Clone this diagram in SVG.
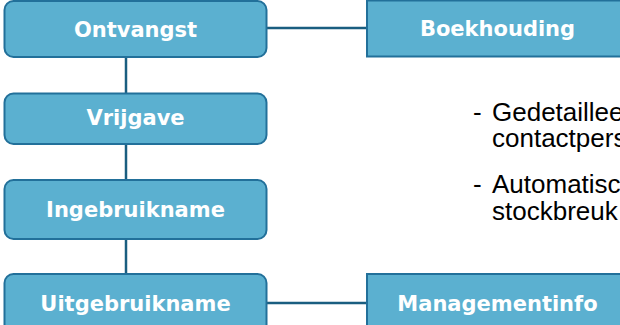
<svg xmlns="http://www.w3.org/2000/svg" width="620" height="325" viewBox="0 0 620 325">
<style>
.box{fill:#5BB0D0;stroke:#22709A;stroke-width:2}
.lbl{font-family:"DejaVu Sans","Liberation Sans",sans-serif;font-weight:bold;font-size:21px;fill:#FFFFFF;text-anchor:middle}
.con{stroke:#1A5E80;stroke-width:2.5;fill:none}
.txt{font-family:"Liberation Sans",Arial,sans-serif;font-size:26px;fill:#000000}
</style>
<rect width="620" height="325" fill="#FFFFFF"/>
<g id="connectors">
<line class="con" x1="126" y1="57" x2="126" y2="93"/>
<line class="con" x1="126" y1="144" x2="126" y2="180"/>
<line class="con" x1="126" y1="239" x2="126" y2="274"/>
<line class="con" x1="266.5" y1="28" x2="367" y2="28"/>
<line class="con" x1="266.5" y1="303" x2="367" y2="303"/>
</g>
<g id="ontvangst">
<rect class="box" x="4.5" y="1" width="262" height="56" rx="9"/>
<text class="lbl" x="135.5" y="37">Ontvangst</text>
</g>
<g id="vrijgave">
<rect class="box" x="4.5" y="93.5" width="262" height="50.5" rx="9"/>
<text class="lbl" x="135.5" y="125">Vrijgave</text>
</g>
<g id="ingebruikname">
<rect class="box" x="4.5" y="180" width="262" height="59" rx="9"/>
<text class="lbl" x="135.5" y="217">Ingebruikname</text>
</g>
<g id="uitgebruikname">
<rect class="box" x="4.5" y="274" width="262" height="62" rx="9"/>
<text class="lbl" x="135.5" y="310.5">Uitgebruikname</text>
</g>
<g id="boekhouding">
<rect class="box" x="367" y="0.5" width="270" height="56"/>
<text class="lbl" x="497.5" y="35.5">Boekhouding</text>
</g>
<g id="managementinfo">
<rect class="box" x="367" y="274" width="270" height="62"/>
<text class="lbl" x="497.5" y="310.5">Managementinfo</text>
</g>
<g id="notes">
<text class="txt"><tspan x="473" y="121">-</tspan><tspan x="492" y="121">Gedetaillee</tspan><tspan x="492" y="147">contactpers</tspan></text>
<text class="txt"><tspan x="473" y="193">-</tspan><tspan x="492" y="193">Automatisc</tspan><tspan x="492" y="220">stockbreuk</tspan></text>
</g>
</svg>
